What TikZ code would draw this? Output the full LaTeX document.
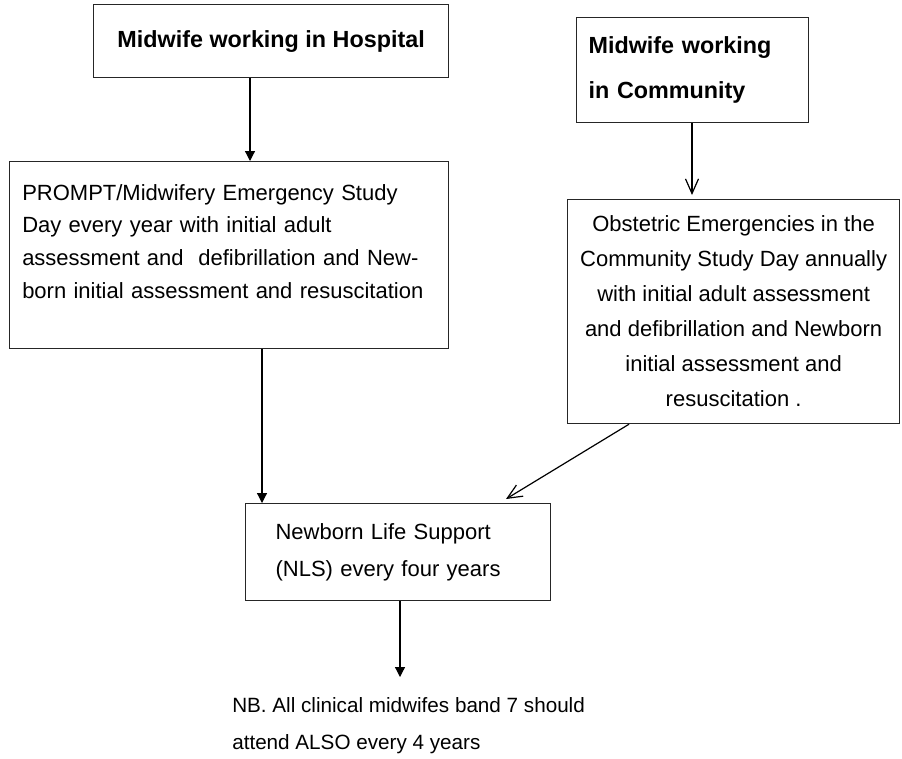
\documentclass[tikz,border=0pt]{standalone}
\usepackage{fontspec}
\setmainfont{Liberation Sans}
\usetikzlibrary{arrows.meta}

\begin{document}
\begin{tikzpicture}[x=0.75pt,y=0.75pt,yscale=-1,xscale=1,
  box/.style={draw=black!85, line width=0.9pt, inner sep=0pt, anchor=north west},
  head/.style={font=\bfseries\fontsize{17.5}{33.75}\selectfont},
  body/.style={font=\fontsize{16.5}{24.5}\selectfont},
  solidtip/.style={-{Triangle[length=7.5pt,width=7.5pt]}, line width=0.9pt},
  opentip/.style={-{Straight Barb[length=11pt,width=9.75pt]}, line width=0.9pt}]
\useasboundingbox (0,0) rectangle (902,758);

%Shape: Rectangle [hospital]
\node[box, head, minimum width=266.25pt, minimum height=54.75pt] (hosp) at (93,4) {Midwife working in Hospital};
%Shape: Rectangle [community]
\node[box, head, align=left, text width=156pt, minimum width=174pt, minimum height=78.75pt] (comm) at (576,17) {Midwife working\\in Community};
%Shape: Rectangle [prompt]
\node[box, minimum width=329.25pt, minimum height=140.25pt] (prompt) at (9,161) {};
%Shape: Rectangle [obstetric]
\node[box, align=center, font=\fontsize{16.5}{26.25}\selectfont, minimum width=249pt, minimum height=168pt] (obst) at (567,199) {Obstetric Emergencies in the\\Community Study Day annually\\with initial adult assessment\\and defibrillation and Newborn\\initial assessment and\\resuscitation .};
%Shape: Rectangle [nls]
\node[box, align=left, font=\fontsize{16.5}{27.75}\selectfont, text width=183.75pt, minimum width=228.75pt, minimum height=72.75pt] (nls) at (245,503) {Newborn Life Support\\(NLS) every four years};

% Text Node
\node[body, anchor=north west, align=left, text width=315pt, inner sep=0pt] (promptText) at (22,184) {PROMPT/Midwifery Emergency Study\\Day every year with initial adult\\assessment and~ defibrillation and New-\\born initial assessment and resuscitation};
% Text Node
\node[anchor=north west, align=left, inner sep=0pt, font=\fontsize{15.5}{27.75}\selectfont] (note) at (232,697) {NB. All clinical midwifes band 7 should\\attend ALSO every 4 years};

% arrow positions
\coordinate (hospX) at (250,0);
\coordinate (commX) at (692,0);
\coordinate (promptX) at (262,0);
\coordinate (obstX) at (629,0);
\coordinate (diagEnd) at (506,499);
\coordinate (noteTip) at (400,677);

%Straight Lines
\draw[solidtip] (hosp.south -| hospX) -- (prompt.north -| hospX);
%Straight Lines
\draw[opentip, shorten >=3pt] (comm.south -| commX) -- (obst.north -| commX);
%Straight Lines
\draw[solidtip] (prompt.south -| promptX) -- (nls.north -| promptX);
%Straight Lines
\draw[opentip] (obst.south -| obstX) -- (diagEnd);
%Straight Lines
\draw[solidtip] (nls.south -| noteTip) -- (noteTip);

\end{tikzpicture}
\end{document}
